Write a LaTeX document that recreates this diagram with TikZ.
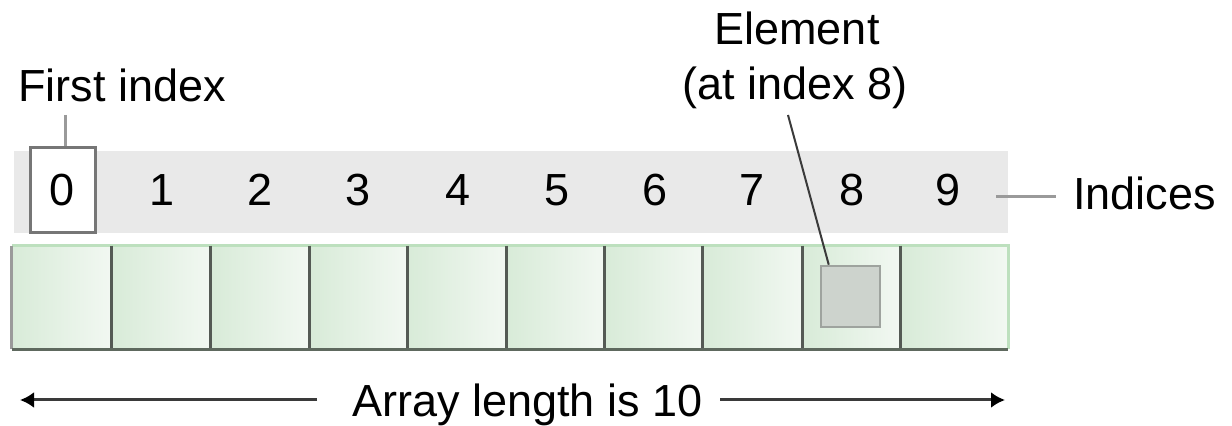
\documentclass[tikz,border=0pt]{standalone}
\usepackage{fontspec}
\setmainfont{Liberation Sans}
\usetikzlibrary{arrows.meta}
\definecolor{bandgray}{HTML}{E9E9E9}
\definecolor{boxedge}{HTML}{767676}
\definecolor{leadgray}{HTML}{9A9A9A}
\definecolor{cellA}{HTML}{D8EBD8}
\definecolor{cellB}{HTML}{F2F8F2}
\definecolor{greenedge}{HTML}{BDE0BE}
\definecolor{divider}{HTML}{545A54}
\definecolor{bottomedge}{HTML}{5E695E}
\definecolor{elemfill}{HTML}{CDD3CD}
\definecolor{elemedge}{HTML}{9EA39E}
\definecolor{arrowgray}{HTML}{3A3A3A}
\tikzset{
  lbl/.style={inner sep=0pt, anchor=base, font=\fontsize{22.5}{27}\selectfont},
  cell/.style={draw=none, inner sep=0pt, minimum height=51.5pt, left color=cellA, right color=cellB},
  greenline/.style={draw=greenedge, line width=1.5pt},
  divline/.style={draw=divider, line width=1.5pt},
  leader/.style={draw=leadgray, line width=1.5pt},
  elemleader/.style={draw=arrowgray, line width=1pt},
  lenarrow/.style={draw=arrowgray, line width=1.5pt, -{Latex[length=7pt,width=8pt,color=black]}}
}
\begin{document}
\begin{tikzpicture}[x=0.5pt,y=-0.5pt]
\useasboundingbox (0,0) rectangle (1232,426);
% index band
\node[fill=bandgray, inner sep=0pt, minimum width=497pt, minimum height=41pt] (band) at (511,192) {};
% box around first index
\node[draw=boxedge, fill=white, line width=1.5pt, inner sep=0pt, minimum width=32.5pt, minimum height=42.5pt] (box0) at (62.5,190.5) {};
% digits
\foreach \x [count=\i from 0] in {62,162,260,358,458,557,655,752,852,948}
  \node[lbl] (d\i) at (\x,206) {\i};
% cells
\foreach \a/\b [count=\i from 0] in {12/112,112/211,211/310,310/408,408/507,507/605,605/703,703/803,803/901,901/1008}
  \node[cell, minimum width={(\b-\a)*0.5pt}] (c\i) at ({(\a+\b)/2},297.5) {};
\draw[greenline] (c0.north west) -- (c9.north east) -- (c9.south east);
\draw[draw=leadgray, line width=1.5pt] (c0.north west) -- (c0.south west);
\foreach \i in {1,...,9}
  \draw[divline] (c\i.north west) -- (c\i.south west);
\draw[draw=bottomedge, line width=1.5pt] (c0.south west) -- (c9.south east);
% element
\node[draw=elemedge, fill=elemfill, line width=1.25pt, inner sep=0pt, minimum width=29.5pt, minimum height=30.5pt] (el) at (850.5,296.5) {};
% labels
\node[lbl, anchor=base west] (first) at (18,102) {First index};
\coordinate (fitop) at (65,115);
\draw[leader] (fitop) -- (fitop |- box0.north);
\node[lbl] (elemlbl) at (797,45) {Element};
\node[lbl] (atlbl) at (795,100) {(at index 8)};
\coordinate (eltop) at (788,115);
\draw[elemleader] (eltop) -- ([xshift=4.5pt]el.north west);
\node[lbl, anchor=base west] (ind) at (1073,210) {Indices};
\coordinate (indstart) at (996,197);
\coordinate (indend) at (1056,197);
\draw[leader] (indstart) -- (indend);
% length
\node[lbl, anchor=base west] (len) at (352,417) {Array length is 10};
\coordinate (lenL) at (317,400);
\coordinate (lenLtip) at (20,400);
\coordinate (lenR) at (720,400);
\coordinate (lenRtip) at (1005,400);
\draw[lenarrow] (lenL) -- (lenLtip);
\draw[lenarrow] (lenR) -- (lenRtip);
\end{tikzpicture}
\end{document}
